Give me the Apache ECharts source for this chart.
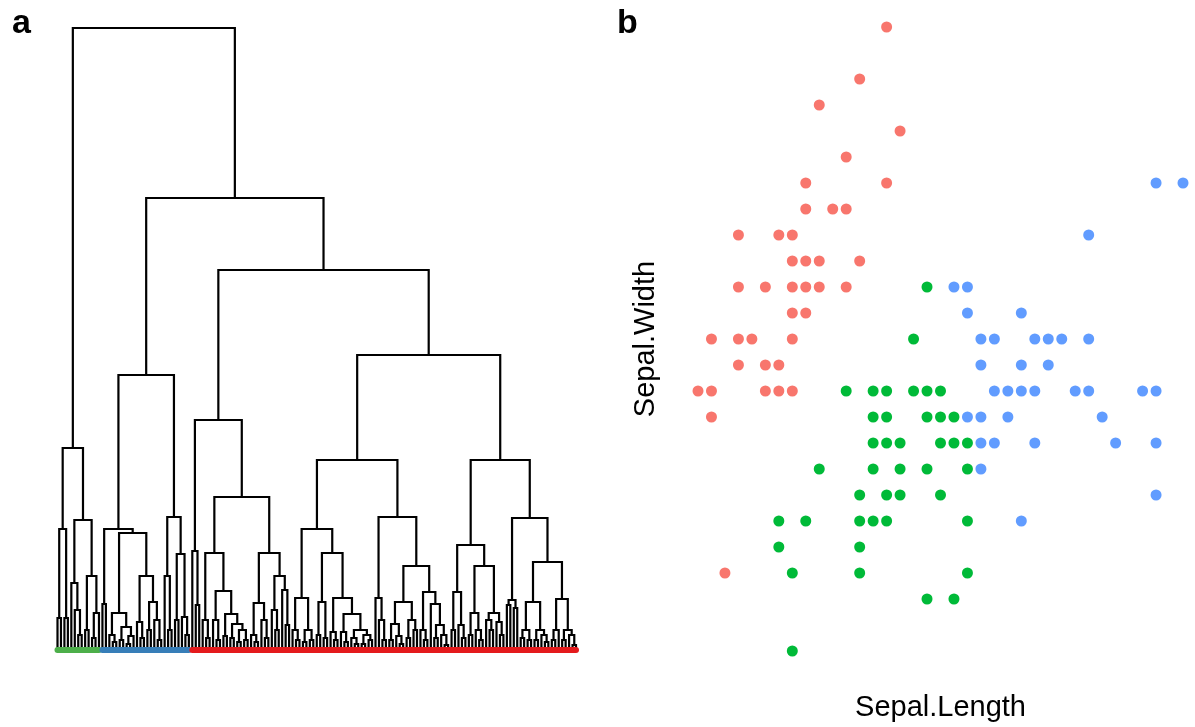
<!DOCTYPE html>
<html>
<head>
<meta charset="utf-8">
<title>dendrogram + scatter</title>
<script src="https://cdn.jsdelivr.net/npm/echarts@6.0.0/dist/echarts.min.js"></script>
<style>
  html, body { margin: 0; padding: 0; background: #fff; }
  #main { width: 1195px; height: 727px; }
</style>
</head>
<body>
<div id="main"></div>
<script>
// ---- panel a: dendrogram, node = [height, left, right], 0 = leaf ----
const greenCluster = [2.02,
  [1.21, [0.32, 0, 0], [0.32, 0, 0]],
  [1.30,
    [0.67, 0, [0.40, 0, [0.15, 0, 0]]],
    [0.74, [0.20, 0, 0], [0.37, [0.12, 0, 0], 0]]]];

const blueCluster = [2.75,
  [1.21,
    [0.46, 0, 0],
    [1.17,
      [0.37, [0.15, 0, [0.08, 0, 0]], [0.23, [0.10, 0, 0], [0.14, [0.06, 0, 0], 0]]],
      [0.74, [0.28, 0, [0.12, 0, 0]], [0.48, [0.20, 0, 0], [0.30, 0, [0.10, 0, 0]]]]]],
  [1.33,
    [0.74, 0, [0.20, 0, 0]],
    [0.96, [0.30, 0, 0], [0.33, 0, [0.15, 0, 0]]]]];

const redLeft = [2.30,
  [0.99, 0, [0.45, 0, 0]],
  [1.53,
    [0.97,
      [0.30, 0, [0.12, 0, 0]],
      [0.59,
        [0.30, 0, [0.10, 0, 0]],
        [0.36, [0.14, 0, 0], [0.26, [0.12, 0, 0], [0.20, [0.08, 0, 0], [0.10, 0, 0]]]]]],
    [0.97,
      [0.47, [0.15, 0, [0.08, 0, 0]], [0.30, 0, [0.12, 0, 0]]],
      [0.74, [0.40, 0, [0.20, 0, 0]], [0.60, 0, [0.25, 0, 0]]]]]];

const redRight = [2.95,
  [1.90,
    [1.21,
      [0.52, [0.20, 0, [0.10, 0, 0]], [0.20, [0.08, 0, 0], [0.10, 0, 0]]],
      [0.97,
        [0.48, [0.15, 0, 0], [0.12, 0, 0]],
        [0.52,
          [0.18, 0, [0.10, 0, 0]],
          [0.36,
            [0.18, 0, [0.08, 0, 0]],
            [0.20, [0.12, 0, [0.06, 0, 0]], [0.15, [0.06, 0, 0], [0.10, 0, 0]]]]]]],
    [1.33,
      [0.52, 0, [0.30, 0, [0.10, 0, 0]]],
      [0.84,
        [0.48, [0.26, [0.10, 0, 0], [0.14, 0, [0.06, 0, 0]]], [0.30, [0.12, 0, 0], [0.20, 0, 0]]],
        [0.58, [0.20, 0, [0.10, 0, 0]], [0.46, 0, [0.25, [0.12, 0, 0], [0.15, 0, [0.05, 0, 0]]]]]]]],
  [1.90,
    [1.05,
      [0.58, [0.20, 0, 0], [0.25, 0, [0.12, 0, 0]]],
      [0.84,
        [0.37, [0.15, 0, 0], [0.20, 0, [0.10, 0, 0]]],
        [0.37, [0.30, 0, [0.20, 0, 0]], [0.28, 0, [0.15, 0, 0]]]]],
    [1.32,
      [0.50, [0.45, 0, 0], [0.42, 0, 0]],
      [0.88,
        [0.48, [0.20, [0.12, 0, 0], [0.10, 0, 0]], [0.20, [0.10, 0, 0], [0.15, 0, [0.08, 0, 0]]]],
        [0.51, [0.20, [0.10, 0, 0], 0], [0.20, [0.10, 0, 0], [0.15, 0, [0.05, 0, 0]]]]]]]];

const mergeHeights = { root: 6.22, rest: 4.52, red: 3.80 };
const clusterColors = ['#4DAF4A', '#377EB8', '#E41A1C'];

// ---- panel b: Sepal.Length / Sepal.Width by cluster ----
const pointsRed = [[5.7,4.4],[5.5,4.2],[5.2,4.1],[5.8,4.0],[5.4,3.9],[5.1,3.8],[5.7,3.8],[5.1,3.7],[5.3,3.7],[5.4,3.7],
  [4.6,3.6],[4.9,3.6],[5.0,3.6],[5.0,3.5],[5.1,3.5],[5.2,3.5],[5.5,3.5],[4.6,3.4],[4.8,3.4],[5.0,3.4],[5.1,3.4],[5.2,3.4],
  [5.4,3.4],[5.0,3.3],[5.1,3.3],[4.4,3.2],[4.6,3.2],[4.7,3.2],[5.0,3.2],[4.6,3.1],[4.8,3.1],[4.9,3.1],[4.3,3.0],[4.4,3.0],
  [4.8,3.0],[4.9,3.0],[5.0,3.0],[4.4,2.9],[4.5,2.3]];
const pointsGreen = [[6.0,3.4],[5.9,3.2],[5.4,3.0],[5.6,3.0],[5.7,3.0],[5.9,3.0],[6.0,3.0],[6.1,3.0],[5.6,2.9],[5.7,2.9],
  [6.0,2.9],[6.1,2.9],[6.2,2.9],[5.6,2.8],[5.7,2.8],[5.8,2.8],[6.1,2.8],[6.2,2.8],[6.3,2.8],[5.2,2.7],[5.6,2.7],[5.8,2.7],
  [6.0,2.7],[6.3,2.7],[5.5,2.6],[5.7,2.6],[5.8,2.6],[6.1,2.6],[4.9,2.5],[5.1,2.5],[5.5,2.5],[5.6,2.5],[5.7,2.5],[6.3,2.5],
  [4.9,2.4],[5.5,2.4],[5.0,2.3],[5.5,2.3],[6.3,2.3],[6.0,2.2],[6.2,2.2],[5.0,2.0]];
const pointsBlue = [[7.7,3.8],[7.9,3.8],[7.2,3.6],[6.2,3.4],[6.3,3.4],[6.3,3.3],[6.7,3.3],[6.4,3.2],[6.5,3.2],[6.8,3.2],
  [6.9,3.2],[7.0,3.2],[7.2,3.2],[6.4,3.1],[6.7,3.1],[6.9,3.1],[6.5,3.0],[6.6,3.0],[6.7,3.0],[6.8,3.0],[7.1,3.0],[7.2,3.0],
  [7.6,3.0],[7.7,3.0],[6.3,2.9],[6.4,2.9],[6.6,2.9],[7.3,2.9],[6.4,2.8],[6.5,2.8],[6.8,2.8],[7.4,2.8],[7.7,2.8],[6.4,2.7],
  [7.7,2.6],[6.7,2.5]];

// lay out the tree: leaves get 0,1,2..., a node sits mid-way between its children
const tree = [mergeHeights.root, greenCluster, [mergeHeights.rest, blueCluster, [mergeHeights.red, redLeft, redRight]]];
let nextLeaf = 0;
const segments = [];
function place(node) {
  if (!Array.isArray(node)) return { x: nextLeaf++, h: 0 };
  const l = place(node[1]);
  const r = place(node[2]);
  segments.push([l.x, l.h, l.x, node[0], r.x, node[0], r.x, r.h]);
  return { x: (l.x + r.x) / 2, h: node[0] };
}
place(tree);
const nLeaves = nextLeaf;

function countLeaves(node) {
  return Array.isArray(node) ? countLeaves(node[1]) + countLeaves(node[2]) : 1;
}
const nGreen = countLeaves(greenCluster);
const nBlue = countLeaves(blueCluster);
const bars = [
  [0, nGreen - 1, 0],
  [nGreen, nGreen + nBlue - 1, 1],
  [nGreen + nBlue, nLeaves - 1, 2]
];

const chart = echarts.init(document.getElementById('main'));
const hidden = { show: false };
const option = {
  animation: false,
  backgroundColor: '#fff',
  graphic: [
    { type: 'text', x: 12, y: 24, style: { text: 'a', font: 'bold 34px "Liberation Sans", Arial', fill: '#000', verticalAlign: 'middle' } },
    { type: 'text', x: 617, y: 24, style: { text: 'b', font: 'bold 34px "Liberation Sans", Arial', fill: '#000', verticalAlign: 'middle' } }
  ],
  grid: [
    { left: 57.5, top: 28, width: 518.5, height: 622 },
    { left: 698, top: 27, width: 485, height: 624 }
  ],
  xAxis: [
    { gridIndex: 0, type: 'value', min: 0, max: nLeaves - 1, axisLine: hidden, axisTick: hidden, axisLabel: hidden, splitLine: hidden },
    { gridIndex: 1, type: 'value', min: 4.3, max: 7.9, axisLine: hidden, axisTick: hidden, axisLabel: hidden, splitLine: hidden,
      name: 'Sepal.Length', nameLocation: 'middle', nameGap: 42,
      nameTextStyle: { fontSize: 29, fontFamily: '"Liberation Sans", Arial', color: '#000' } }
  ],
  yAxis: [
    { gridIndex: 0, type: 'value', min: 0, max: mergeHeights.root, axisLine: hidden, axisTick: hidden, axisLabel: hidden, splitLine: hidden },
    { gridIndex: 1, type: 'value', min: 2.0, max: 4.4, axisLine: hidden, axisTick: hidden, axisLabel: hidden, splitLine: hidden,
      name: 'Sepal.Width', nameLocation: 'middle', nameGap: 38,
      nameTextStyle: { fontSize: 29, fontFamily: '"Liberation Sans", Arial', color: '#000' } }
  ],
  series: [
    {
      type: 'custom',
      xAxisIndex: 0, yAxisIndex: 0,
      data: segments,
      renderItem: function (params, api) {
        const pts = [];
        for (let i = 0; i < 8; i += 2) pts.push(api.coord([api.value(i), api.value(i + 1)]));
        return { type: 'polyline', shape: { points: pts }, style: { stroke: '#000', lineWidth: 2.2, fill: null } };
      }
    },
    {
      type: 'custom',
      xAxisIndex: 0, yAxisIndex: 0,
      data: bars,
      renderItem: function (params, api) {
        const a = api.coord([api.value(0), 0]);
        const b = api.coord([api.value(1), 0]);
        return { type: 'line', shape: { x1: a[0], y1: a[1], x2: b[0], y2: b[1] },
          style: { stroke: clusterColors[api.value(2)], lineWidth: 6, lineCap: 'round' } };
      }
    },
    { type: 'scatter', xAxisIndex: 1, yAxisIndex: 1, data: pointsRed, symbolSize: 11, itemStyle: { color: '#F8766D', opacity: 1 } },
    { type: 'scatter', xAxisIndex: 1, yAxisIndex: 1, data: pointsGreen, symbolSize: 11, itemStyle: { color: '#00BA38', opacity: 1 } },
    { type: 'scatter', xAxisIndex: 1, yAxisIndex: 1, data: pointsBlue, symbolSize: 11, itemStyle: { color: '#619CFF', opacity: 1 } }
  ]
};
chart.setOption(option);
</script>
</body>
</html>
